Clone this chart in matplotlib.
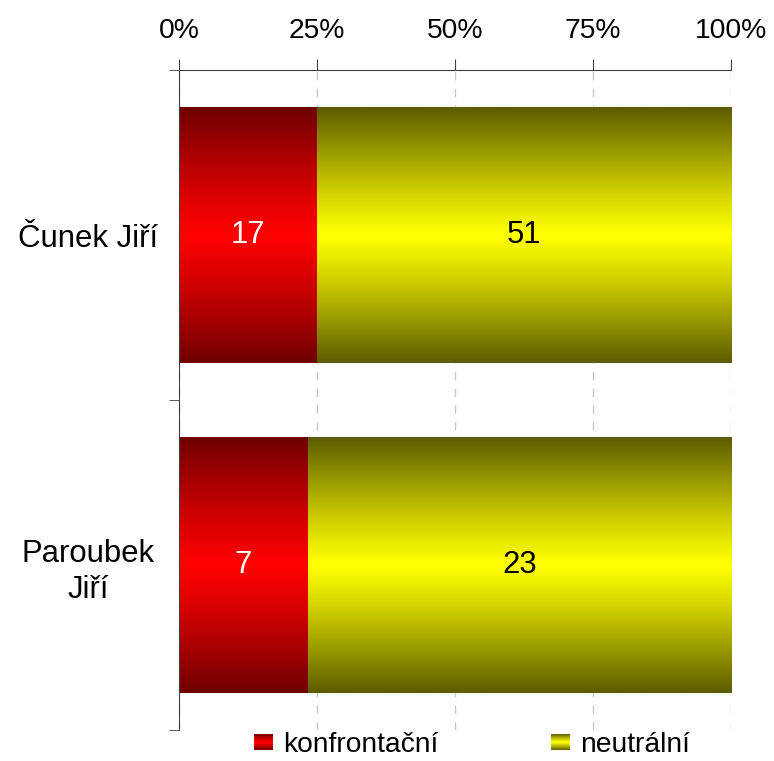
import numpy as np
import matplotlib.pyplot as plt
from matplotlib.patches import Rectangle
from matplotlib.legend_handler import HandlerBase
from matplotlib.colors import LinearSegmentedColormap

plt.rcParams['font.family'] = ['Liberation Sans', 'DejaVu Sans']

names = ['Čunek Jiří', 'Paroubek\nJiří']
series = ['konfrontační', 'neutrální']
konfrontacni = [17, 7]
neutralni = [51, 23]
ticks = [0, 25, 50, 75, 100]

colors = {
    'konfrontační': ('#700000', '#ff0000', 'white'),
    'neutrální': ('#5c5c00', '#ffff00', 'black'),
}
tick_size = 20.3
label_size = 22.4


def gradient_cmap(edge, mid):
    return LinearSegmentedColormap.from_list('g', [edge, mid], N=256)

# vertical profile: dark at the edges, bright in the middle
t = np.linspace(-1, 1, 200)
grad = (1 - np.abs(t) ** 1.15).reshape(-1, 1)


class GradientHandler(HandlerBase):
    def __init__(self, edge, mid):
        super().__init__()
        self.cmap = gradient_cmap(edge, mid)

    def create_artists(self, legend, orig_handle, xdescent, ydescent, width, height, fontsize, trans):
        n = 16
        hh = width * 0.85
        y0 = -ydescent + (height - hh) / 2
        arts = []
        for i in range(n):
            v = 1 - abs((i + 0.5) / n * 2 - 1) ** 1.15
            arts.append(Rectangle((-xdescent, y0 + hh * i / n), width, hh / n + 0.3,
                                  facecolor=self.cmap(v), edgecolor='none', transform=trans))
        return arts


fig = plt.figure(figsize=(7.74, 7.61), dpi=100)
ax = fig.add_axes([0.2313, 0.0407, 0.7132, 0.8673])

totals = np.array(konfrontacni) + np.array(neutralni)
pk = np.array(konfrontacni) / totals * 100
pn = np.array(neutralni) / totals * 100
ypos = np.arange(len(names))
h = 0.773

handles = []
for label, vals, pct, left in [('konfrontační', konfrontacni, pk, np.zeros(len(names))),
                               ('neutrální', neutralni, pn, pk)]:
    edge, mid, tc = colors[label]
    cmap = gradient_cmap(edge, mid)
    bars = ax.barh(ypos, pct, left=left, height=h, color='none', label=label, zorder=2)
    handles.append(bars)
    for b, v in zip(bars, vals):
        x0, y0 = b.get_x(), b.get_y()
        ax.imshow(grad, cmap=cmap, aspect='auto', vmin=0, vmax=1,
                  extent=[x0, x0 + b.get_width(), y0 + b.get_height(), y0], zorder=2,
                  interpolation='bilinear')
        ax.text(x0 + b.get_width() / 2, y0 + b.get_height() / 2, str(v), ha='center', va='center',
                color=tc, fontsize=label_size, zorder=3)

ax.set_xlim(0, 100)
ax.set_ylim(len(names) - 0.5, -0.5)
ax.set_aspect('auto')

ax.xaxis.tick_top()
ax.set_xticks(ticks)
ax.set_xticklabels([f'{t}%' for t in ticks], fontsize=tick_size)
ax.tick_params(axis='x', length=8, color='#404040', pad=11)
ax.xaxis.grid(True, linestyle=(0, (6, 6)), color='#c8c8c8', linewidth=1, zorder=0)
ax.set_axisbelow(True)

ax.set_yticks(ypos)
ax.set_yticklabels(names, fontsize=label_size, ha='center', multialignment='center',
                   linespacing=1.3)
ax.tick_params(axis='y', length=0, pad=65.5)
ax.set_yticks([-0.5, 0.5, 1.5], minor=True)
ax.tick_params(axis='y', which='minor', length=7.5, color='#404040')

for s in ['right', 'bottom']:
    ax.spines[s].set_visible(False)
for s in ['top', 'left']:
    ax.spines[s].set_color('#404040')

leg = fig.legend(handles, series, loc='center', bbox_to_anchor=(472 / 774, 1 - 745 / 761),
                 ncol=2, frameon=False, fontsize=tick_size, columnspacing=4.0,
                 handlelength=0.67, handletextpad=0.35, borderpad=0,
                 handler_map={handles[0]: GradientHandler('#700000', '#ff0000'),
                              handles[1]: GradientHandler('#5c5c00', '#ffff00')})

fig.savefig('out.png', dpi=100)
